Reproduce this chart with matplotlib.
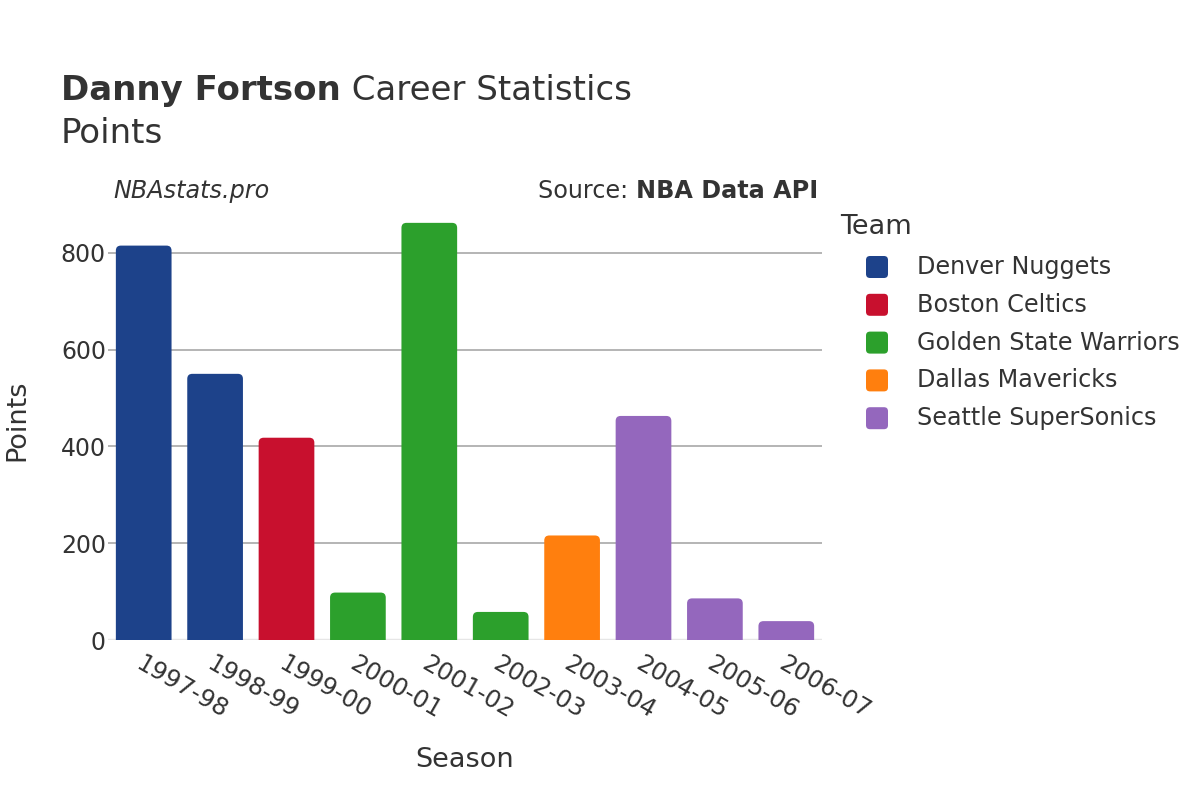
import matplotlib
matplotlib.use("Agg")
import matplotlib.pyplot as plt
from matplotlib.patches import FancyBboxPatch

seasons = ["1997-98", "1998-99", "1999-00", "2000-01", "2001-02",
           "2002-03", "2003-04", "2004-05", "2005-06", "2006-07"]
points = [815, 550, 418, 98, 862, 58, 216, 463, 86, 39]
teams = ["Denver Nuggets", "Denver Nuggets", "Boston Celtics", "Golden State Warriors",
         "Golden State Warriors", "Golden State Warriors", "Dallas Mavericks",
         "Seattle SuperSonics", "Seattle SuperSonics", "Seattle SuperSonics"]
team_order = ["Denver Nuggets", "Boston Celtics", "Golden State Warriors",
              "Dallas Mavericks", "Seattle SuperSonics"]
team_colors = {"Denver Nuggets": "#1d428a", "Boston Celtics": "#c8102e",
               "Golden State Warriors": "#2ca02c", "Dallas Mavericks": "#ff7f0e",
               "Seattle SuperSonics": "#9467bd"}

W, H = 1200, 800
fig = plt.figure(figsize=(12, 8), dpi=100)
fig.patch.set_facecolor("white")

def fx(px):
    return px / W

def fy(py):
    return 1 - py / H

ax = fig.add_axes([fx(108), fy(640), fx(822) - fx(108), fy(202) - fy(640)])
ymax = max(points) * 1.05
ax.set_xlim(-0.5, len(seasons) - 0.5)
ax.set_ylim(0, ymax)

bw = 0.78
x_px_per_unit = (822 - 108) / len(seasons)
y_px_per_unit = (640 - 202) / ymax
r_px = 5
aspect = (r_px / y_px_per_unit) / (r_px / x_px_per_unit)
for i, (v, t) in enumerate(zip(points, teams)):
    bottom = -30
    p = FancyBboxPatch((i - bw / 2, bottom), bw, v - bottom,
                       boxstyle=f"round,pad=0,rounding_size={r_px / x_px_per_unit}",
                       mutation_aspect=aspect,
                       facecolor=team_colors[t], edgecolor="none", zorder=3,
                       clip_on=True)
    ax.add_patch(p)

ax.set_yticks([0, 200, 400, 600, 800])
ax.grid(axis="y", color="#a0a0a0", linewidth=1.1, zorder=0)
ax.axhline(0, color="#e6e6e6", linewidth=2.5, zorder=2)
for s in ax.spines.values():
    s.set_visible(False)
ax.tick_params(axis="both", length=0, colors="#333333")
ax.tick_params(axis="y", pad=1.5, labelsize=17)
ax.set_xticks(range(len(seasons)))
ax.set_xticklabels(seasons, rotation=-30, ha="left", va="top", rotation_mode="anchor")
ax.tick_params(axis="x", pad=8.5, labelsize=17.5)
ax.set_facecolor("white")

# axis titles
fig.text(fx(17), fy(420), "Points", rotation=90, ha="center", va="center",
         fontsize=19.5, color="#333333")
fig.text(fx(465), fy(760), "Season", ha="center", va="center",
         fontsize=19.5, color="#333333")

# title
TS = 24.5
t1 = fig.text(fx(61), fy(100), "Danny Fortson", fontsize=TS, fontweight="bold",
              color="#333333", ha="left", va="baseline")
fig.text(fx(61), fy(143), "Points", fontsize=TS, color="#333333",
         ha="left", va="baseline")
ax.annotate(" Career Statistics", xy=(1, 0), xycoords=t1, fontsize=TS,
            color="#333333", ha="left", va="bottom")

SS = 17.2
fig.text(fx(113), fy(191), "NBAstats.pro", fontsize=SS, style="italic",
         color="#333333", ha="left", va="center")
src = fig.text(fx(818), fy(191), "NBA Data API", fontsize=SS, fontweight="bold",
               color="#333333", ha="right", va="center")
ax.annotate("Source: ", xy=(0, 0), xycoords=src, fontsize=SS,
            color="#333333", ha="right", va="bottom")

# legend
fig.text(fx(840), fy(227), "Team", fontsize=19.5, color="#333333",
         ha="left", va="center")
for k, team in enumerate(team_order):
    yc = 267 + k * 37.8
    sq = 22
    p = FancyBboxPatch((fx(866), fy(yc + sq / 2)), fx(sq), fy(0) - fy(sq),
                       boxstyle=f"round,pad=0,rounding_size={fx(4)}",
                       mutation_aspect=W / H,
                       transform=fig.transFigure, facecolor=team_colors[team],
                       edgecolor="none")
    fig.patches.append(p)
    fig.text(fx(917), fy(yc), team, fontsize=SS, color="#333333",
             ha="left", va="center")

fig.savefig("out.png", dpi=100, facecolor="white")
